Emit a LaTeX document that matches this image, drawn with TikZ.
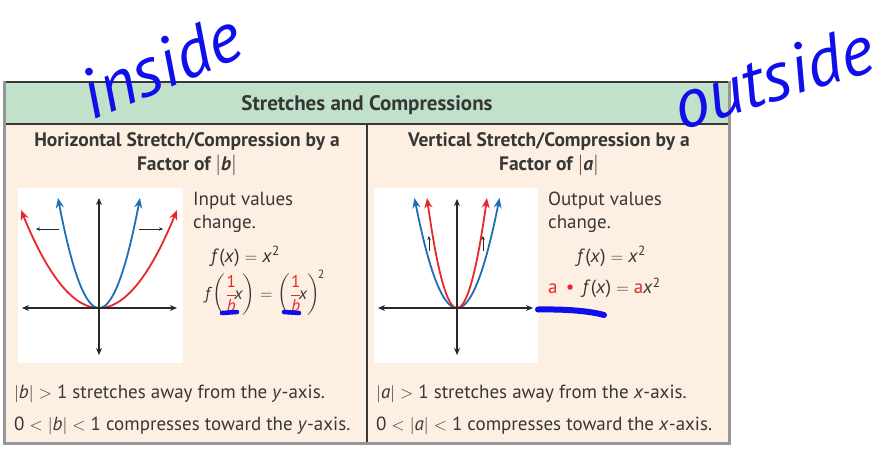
\documentclass[tikz,border=0pt]{standalone}
\usepackage{fontspec}
\usepackage{amsmath}
\setmainfont{PT Sans}
\usetikzlibrary{arrows.meta}
\definecolor{hdr}{RGB}{193,225,203}
\definecolor{cream}{RGB}{253,240,226}
\definecolor{framec}{RGB}{150,150,150}
\definecolor{cred}{RGB}{232,38,44}
\definecolor{cblue}{RGB}{30,110,180}
\definecolor{ink}{RGB}{15,15,235}
\definecolor{txt}{RGB}{55,55,55}
\definecolor{axisc}{RGB}{40,40,40}
\newcommand{\redfrac}{\textcolor{cred}{\dfrac{\text{1}}{\text{\itshape b}}}}
\tikzset{
  body/.style={font=\fontsize{19}{23}\selectfont, text=txt, inner sep=0pt},
  ttl/.style={font=\bfseries\fontsize{19.5}{23}\selectfont, text=txt, inner sep=0pt},
  axisline/.style={line width=1.3pt, draw=axisc, {Stealth[length=7pt,width=6pt]}-{Stealth[length=7pt,width=6pt]}},
  curve/.style={line width=1.8pt, {Stealth[length=10pt,width=8pt]}-{Stealth[length=10pt,width=8pt]}},
  smallarrow/.style={line width=0.7pt, draw=axisc, -{Stealth[length=4pt,width=3.5pt]}},
  pen/.style={draw=ink, line width=5.5pt, line cap=round},
  hand/.style={text=ink, font=\itshape\fontsize{70}{70}\selectfont, inner sep=0pt}
}
\begin{document}
\begin{tikzpicture}[x=1pt,y=-1pt]
\useasboundingbox (0,0) rectangle (889,450);
% table background
\fill[cream] (5,123) rectangle (729,443);
\fill[hdr] (5,82) rectangle (729,123);
\draw[line width=2pt, txt] (5,82) -- (729,82);
\draw[line width=2pt, txt] (5,123.5) -- (729,123.5);
\draw[line width=2pt, txt] (367,123.5) -- (367,443);
\draw[framec, line width=3pt] (4,81) -- (4,443.5) -- (729.5,443.5) -- (729.5,81);
% header
\node[ttl, font=\bfseries\fontsize{21}{23}\selectfont, anchor=base] (head) at (367,110) {Stretches and Compressions};
% column titles
\node[ttl, anchor=base] (t1a) at (187,146.5) {Horizontal Stretch/Compression by a};
\node[ttl, anchor=base] (t1b) at (187,170) {Factor of $\lvert$\textit{b}$\rvert$};
\node[ttl, anchor=base] (t2a) at (549,146.5) {Vertical Stretch/Compression by a};
\node[ttl, anchor=base] (t2b) at (549,170) {Factor of $\lvert$\textit{a}$\rvert$};
% left plot
\fill[white] (18,188) rectangle (183,363);
\draw[curve, cred] plot[domain=-78:78, samples=80] ({99+\x},{308-0.01611*\x*\x});
\draw[curve, cblue] plot[domain=-41:41, samples=80] ({99+\x},{308-0.06544*\x*\x});
\coordinate (l1) at (22,308); \coordinate (l2) at (177,308);
\coordinate (l3) at (99,198); \coordinate (l4) at (99,355);
\draw[axisline] (l1) -- (l2);
\draw[axisline] (l3) -- (l4);
\coordinate (la1) at (59,229); \coordinate (la2) at (36,229);
\coordinate (la3) at (139,229); \coordinate (la4) at (163,229);
\draw[smallarrow] (la1) -- (la2);
\draw[smallarrow] (la3) -- (la4);
% right plot
\fill[white] (374,188) rectangle (538,363);
\draw[curve, cblue] plot[domain=-42.5:42.5, samples=80] ({457+\x},{308-0.0609*\x*\x});
\draw[curve, cred] plot[domain=-30:30, samples=80] ({457+\x},{308-0.1222*\x*\x});
\coordinate (r1) at (378,308); \coordinate (r2) at (533,308);
\coordinate (r3) at (457,199); \coordinate (r4) at (457,355);
\draw[axisline] (r1) -- (r2);
\draw[axisline] (r3) -- (r4);
\coordinate (ra1) at (429,251); \coordinate (ra2) at (429,236);
\coordinate (ra3) at (483,251); \coordinate (ra4) at (483,236);
\draw[smallarrow] (ra1) -- (ra2);
\draw[smallarrow] (ra3) -- (ra4);
% left texts
\node[body, anchor=base west] (in1) at (193,205.5) {Input values};
\node[body, anchor=base west] (in2) at (193,228) {change.};
\node[body, anchor=base west] (fx1) at (211,262) {\textit{f}(\textit{x}) $=$ \textit{x}\textsuperscript{2}};
\node[body, font=\fontsize{17}{21}\selectfont, anchor=west] (fx2) at (205,293) {$\text{\itshape f}\left(\redfrac\!\text{\itshape x}\right)=\left(\redfrac\!\text{\itshape x}\right)^{\!\text{2}}$};
% right texts
\node[body, anchor=base west] (out1) at (548,205.5) {Output values};
\node[body, anchor=base west] (out2) at (548,228) {change.};
\node[body, anchor=base west] (fx3) at (577,262) {\textit{f}(\textit{x}) $=$ \textit{x}\textsuperscript{2}};
\node[body, anchor=base west] (fx4) at (548,293.5) {\textcolor{cred}{a}\, \textcolor{cred}{\textbullet}\, \textit{f}(\textit{x}) $=$ \textcolor{cred}{a}\textit{x}\textsuperscript{2}};
% bottom texts
\node[body, anchor=base west] (b1) at (14,398) {$\lvert$\textit{b}$\rvert$ $>$ 1 stretches away from the \textit{y}-axis.};
\node[body, anchor=base west] (b2) at (14,430) {0 $<$ $\lvert$\textit{b}$\rvert$ $<$ 1 compresses toward the \textit{y}-axis.};
\node[body, anchor=base west] (b3) at (376,398) {$\lvert$\textit{a}$\rvert$ $>$ 1 stretches away from the \textit{x}-axis.};
\node[body, anchor=base west] (b4) at (376,430) {0 $<$ $\lvert$\textit{a}$\rvert$ $<$ 1 compresses toward the \textit{x}-axis.};
% handwriting
\node[hand, anchor=base, rotate=23] (ins) at (170,88) {inside};
\node[hand, anchor=base, rotate=17] (outs) at (780,100) {outside};
\coordinate (u1) at (222,313); \coordinate (u2) at (237,312);
\coordinate (u3) at (284,312); \coordinate (u4) at (299,313);
\draw[pen, line width=4.5pt] (u1) -- (u2);
\draw[pen, line width=4.5pt] (u3) -- (u4);
\coordinate (s1) at (538,309.5); \coordinate (s2) at (604,315);
\draw[pen, line width=6pt] (s1) .. controls (565,309) and (590,311) .. (s2);
\end{tikzpicture}
\end{document}
